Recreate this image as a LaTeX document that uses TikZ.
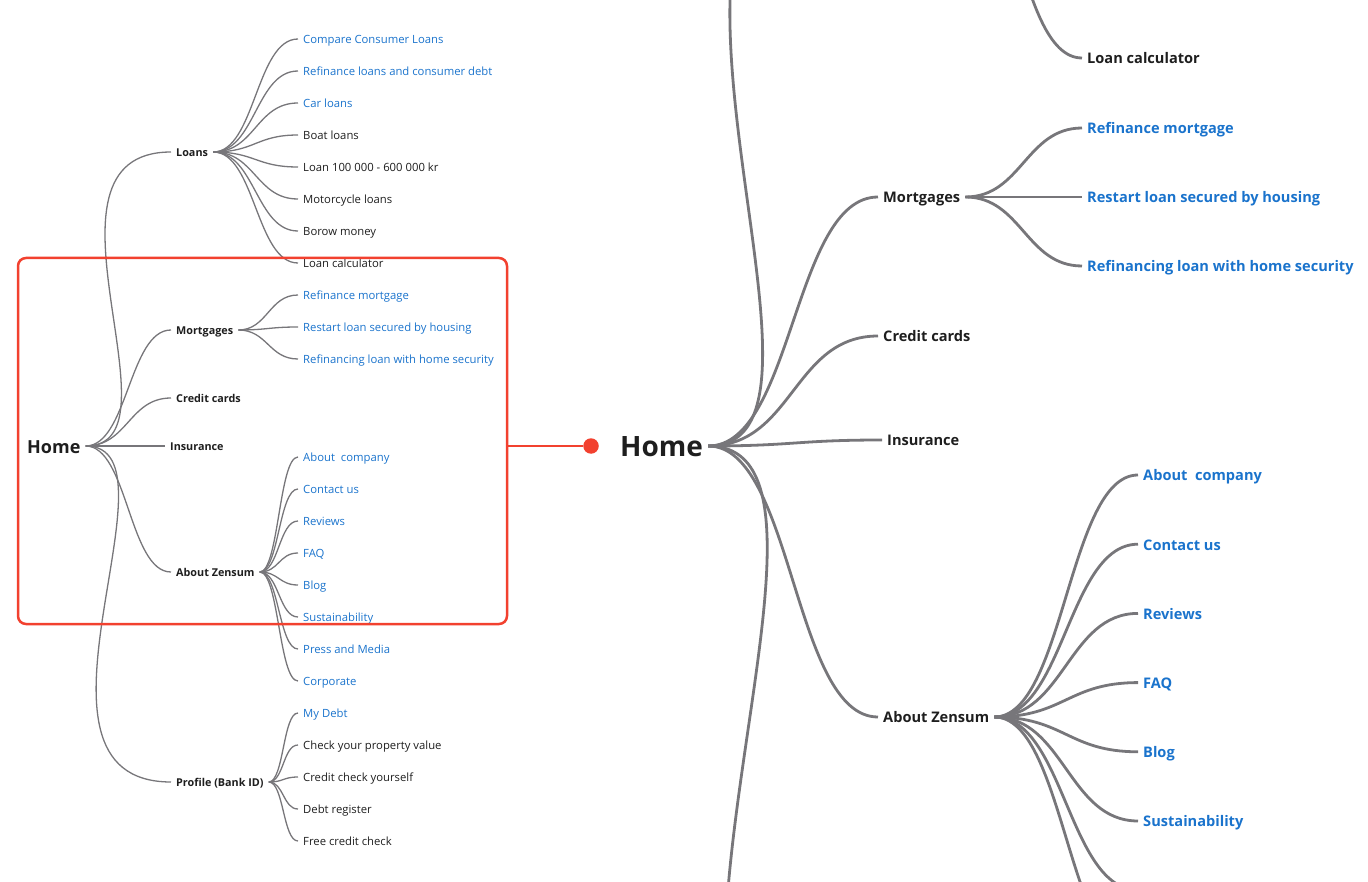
\documentclass[tikz,border=0pt]{standalone}
\usepackage{fontspec}
\setmainfont{Open Sans}
\definecolor{ink}{HTML}{1E1E1E}
\definecolor{wiregray}{HTML}{77767A}
\definecolor{linkblue}{HTML}{1A73CC}
\definecolor{lensred}{HTML}{F2412F}
\tikzset{
 swing/.style 2 args={out=0,in=180,out distance=#1,in distance=#2},
 lwire/.style={draw=wiregray,line width=1.3pt},
 rwire/.style={draw=wiregray,line width=2.8pt},
 lnode/.style={anchor=west,inner xsep=5pt,inner ysep=0pt,text depth=0pt,text height=9.6pt,text=ink,font=\fontsize{11.3}{13}\selectfont},
 lmain/.style={lnode,font=\fontsize{10.8}{13}\selectfont\bfseries},
 lroot/.style={lnode,text height=14.5pt,font=\fontsize{18}{20}\selectfont\bfseries},
 rnode/.style={anchor=west,inner xsep=5pt,inner ysep=0pt,text depth=0pt,text height=11.6pt,text=ink,font=\fontsize{14.6}{17}\selectfont\bfseries},
 rroot/.style={rnode,text height=21pt,font=\fontsize{28}{32}\selectfont\bfseries},
 lens/.style={draw=lensred,line width=2.5pt,rounded corners=8pt,inner sep=0pt},
}
\begin{document}
\begin{tikzpicture}[x=1pt,y=-1pt]
\useasboundingbox (0,0) rectangle (1368,882);
\clip (0,0) rectangle (1368,882);
\node[lroot] (home) at (22,446) {Home};
\node[lmain] (loans) at (171,152) {Loans};
\node[lmain] (mortg) at (171,330) {Mortgages};
\node[lmain] (credit) at (171,398) {Credit cards};
\node[lmain] (insur) at (165,446) {Insurance};
\node[lmain] (about) at (171,572) {About Zensum};
\node[lmain] (profile) at (171,782) {Profile (Bank ID)};
\draw[lwire] (home.east) to[swing={103pt}{150pt}] (loans.west);
\foreach \n in {mortg,credit,insur,about}
 \draw[lwire] (home.east) to[swing={42pt}{42pt}] (\n.west);
\draw[lwire] (home.east) to[swing={103pt}{170pt}] (profile.west);
\foreach \t/\c [count=\i] in {Compare Consumer Loans/linkblue,Refinance loans and consumer debt/linkblue,Car loans/linkblue,Boat loans/ink,Loan 100 000 - 600 000 kr/ink,Motorcycle loans/ink,Borow money/ink,Loan calculator/ink}
 {\node[lnode,text=\c] (loan\i) at (298,7+32*\i) {\t};
  \draw[lwire] (loans.east) to[swing={42pt}{42pt}] (loan\i.west);}
\foreach \t [count=\i] in {Refinance mortgage,Restart loan secured by housing,Refinancing loan with home security}
 {\node[lnode,text=linkblue] (mort\i) at (298,263+32*\i) {\t};
  \draw[lwire] (mortg.east) to[swing={29pt}{29pt}] (mort\i.west);}
\foreach \t [count=\i] in {About\ \ company,Contact us,Reviews,FAQ,Blog,Sustainability,Press and Media,Corporate}
 {\node[lnode,text=linkblue] (abz\i) at (298,425+32*\i) {\t};
  \draw[lwire] (about.east) to[swing={19pt}{19pt}] (abz\i.west);}
\foreach \t/\c [count=\i] in {My Debt/linkblue,Check your property value/ink,Credit check yourself/ink,Debt register/ink,Free credit check/ink}
 {\node[lnode,text=\c] (prof\i) at (298,681+32*\i) {\t};
  \draw[lwire] (profile.east) to[swing={15pt}{15pt}] (prof\i.west);}
\node[rroot] (homeR) at (615,446) {Home};
\node[rnode] (mortgR) at (878,197) {Mortgages};
\node[rnode] (creditR) at (878,336) {Credit cards};
\node[rnode] (insurR) at (882,440) {Insurance};
\node[rnode] (aboutR) at (878,717) {About Zensum};
\node[rnode] (calcR) at (1082,58) {Loan calculator};
\coordinate (loansRin) at (878,-182);
\coordinate (loansRout) at (945,-182);
\coordinate (profileRin) at (878,1172);
\coordinate (pressR) at (1138,890);
\coordinate (corpR) at (1138,959);
\draw[rwire] (homeR.east) to[swing={172pt}{318pt}] (loansRin);
\foreach \n in {mortgR,creditR,insurR,aboutR}
 \draw[rwire] (homeR.east) to[swing={85pt}{85pt}] (\n.west);
\draw[rwire] (homeR.east) to[swing={190pt}{340pt}] (profileRin);
\draw[rwire] (loansRout) to[swing={69pt}{69pt}] (calcR.west);
\foreach \t [count=\i] in {Refinance mortgage,Restart loan secured by housing,Refinancing loan with home security}
 {\node[rnode,text=linkblue] (mortR\i) at (1082,59+69*\i) {\t};
  \draw[rwire] (mortgR.east) to[swing={56pt}{56pt}] (mortR\i.west);}
\foreach \t [count=\i] in {About\ \ company,Contact us,Reviews,FAQ,Blog,Sustainability}
 {\node[rnode,text=linkblue] (abzR\i) at (1138,405.8+69.2*\i) {\t};
  \draw[rwire] (aboutR.east) to[swing={70pt}{70pt}] (abzR\i.west);}
\foreach \c in {pressR,corpR}
 \draw[rwire] (aboutR.east) to[swing={70pt}{70pt}] (\c);
\node[lens,minimum width=489pt,minimum height=366pt] (lens) at (262.5,441) {};
\node[circle,fill=lensred,inner sep=0pt,minimum size=15.5pt] (dot) at (591,446) {};
\draw[lensred,line width=2.5pt] (lens.east |- dot) -- (dot);
\end{tikzpicture}
\end{document}
